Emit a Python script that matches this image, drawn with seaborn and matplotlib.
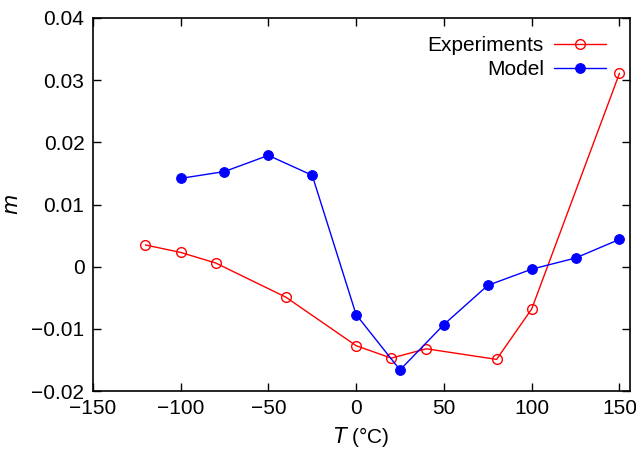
import numpy as np
import pandas as pd
import matplotlib
matplotlib.use("Agg")
import matplotlib.pyplot as plt
import seaborn as sns

# Experiments (open red circles)
exp_T = [-120, -100, -80, -40, 0, 20, 40, 80, 100, 150]
exp_m = [0.0035, 0.0023, 0.0006, -0.0049, -0.0127, -0.0147, -0.0132, -0.0149, -0.0068, 0.0311]

# Model (filled blue circles)
mod_T = [-100, -75, -50, -25, 0, 25, 50, 75, 100, 125, 150]
mod_m = [0.0142, 0.0153, 0.0179, 0.0147, -0.0077, -0.0166, -0.0093, -0.0030, -0.0004, 0.0014, 0.0044]

xticks = [-150, -100, -50, 0, 50, 100, 150]
yticks = [-0.02, -0.01, 0, 0.01, 0.02, 0.03, 0.04]
ytick_labels = ["\u22120.02", "\u22120.01", "0", "0.01", "0.02", "0.03", "0.04"]
xtick_labels = ["\u2212150", "\u2212100", "\u221250", "0", "50", "100", "150"]

sns.set_style("ticks", {"axes.edgecolor": "black", "text.color": "black",
                        "xtick.color": "black", "ytick.color": "black",
                        "axes.labelcolor": "black"})
plt.rcParams['font.family'] = ['Liberation Sans', 'DejaVu Sans']
plt.rcParams['font.size'] = 15

df_exp = pd.DataFrame({"T": exp_T, "m": exp_m})
df_mod = pd.DataFrame({"T": mod_T, "m": mod_m})

fig = plt.figure(figsize=(6.36, 4.49), dpi=100)
ax = fig.add_axes([0.1458, 0.129, 0.8448, 0.831])

sns.lineplot(data=df_exp, x="T", y="m", ax=ax, color="red", linewidth=1,
             marker="o", markersize=7, markerfacecolor="none",
             markeredgecolor="red", markeredgewidth=1, label="Experiments")
sns.lineplot(data=df_mod, x="T", y="m", ax=ax, color="blue", linewidth=1,
             marker="o", markersize=7, markerfacecolor="blue",
             markeredgecolor="blue", label="Model")

ax.set_xlim(-150, 156)
ax.set_ylim(-0.02, 0.04)
ax.set_xticks(xticks)
ax.set_xticklabels(xtick_labels)
ax.set_yticks(yticks)
ax.set_yticklabels(ytick_labels)
ax.tick_params(direction="in", top=True, right=True, length=6, width=1,
               labelsize=15, pad=6, colors="black")
for s in ax.spines.values():
    s.set_linewidth(1.2)
    s.set_color("black")
    s.set_visible(True)

ax.set_xlabel(r"$T$ (°C)", fontsize=15, labelpad=5)
ax.set_ylabel(r"$m$", fontsize=15, labelpad=7)

leg = ax.legend(loc="upper right", frameon=False, markerfirst=False,
                fontsize=15, handlelength=2.5, handletextpad=0.5,
                borderaxespad=0.3, labelspacing=0.25,
                bbox_to_anchor=(0.983, 0.99))
for t in leg.get_texts():
    t.set_ha("right")

fig.savefig("out.png", dpi=100)
